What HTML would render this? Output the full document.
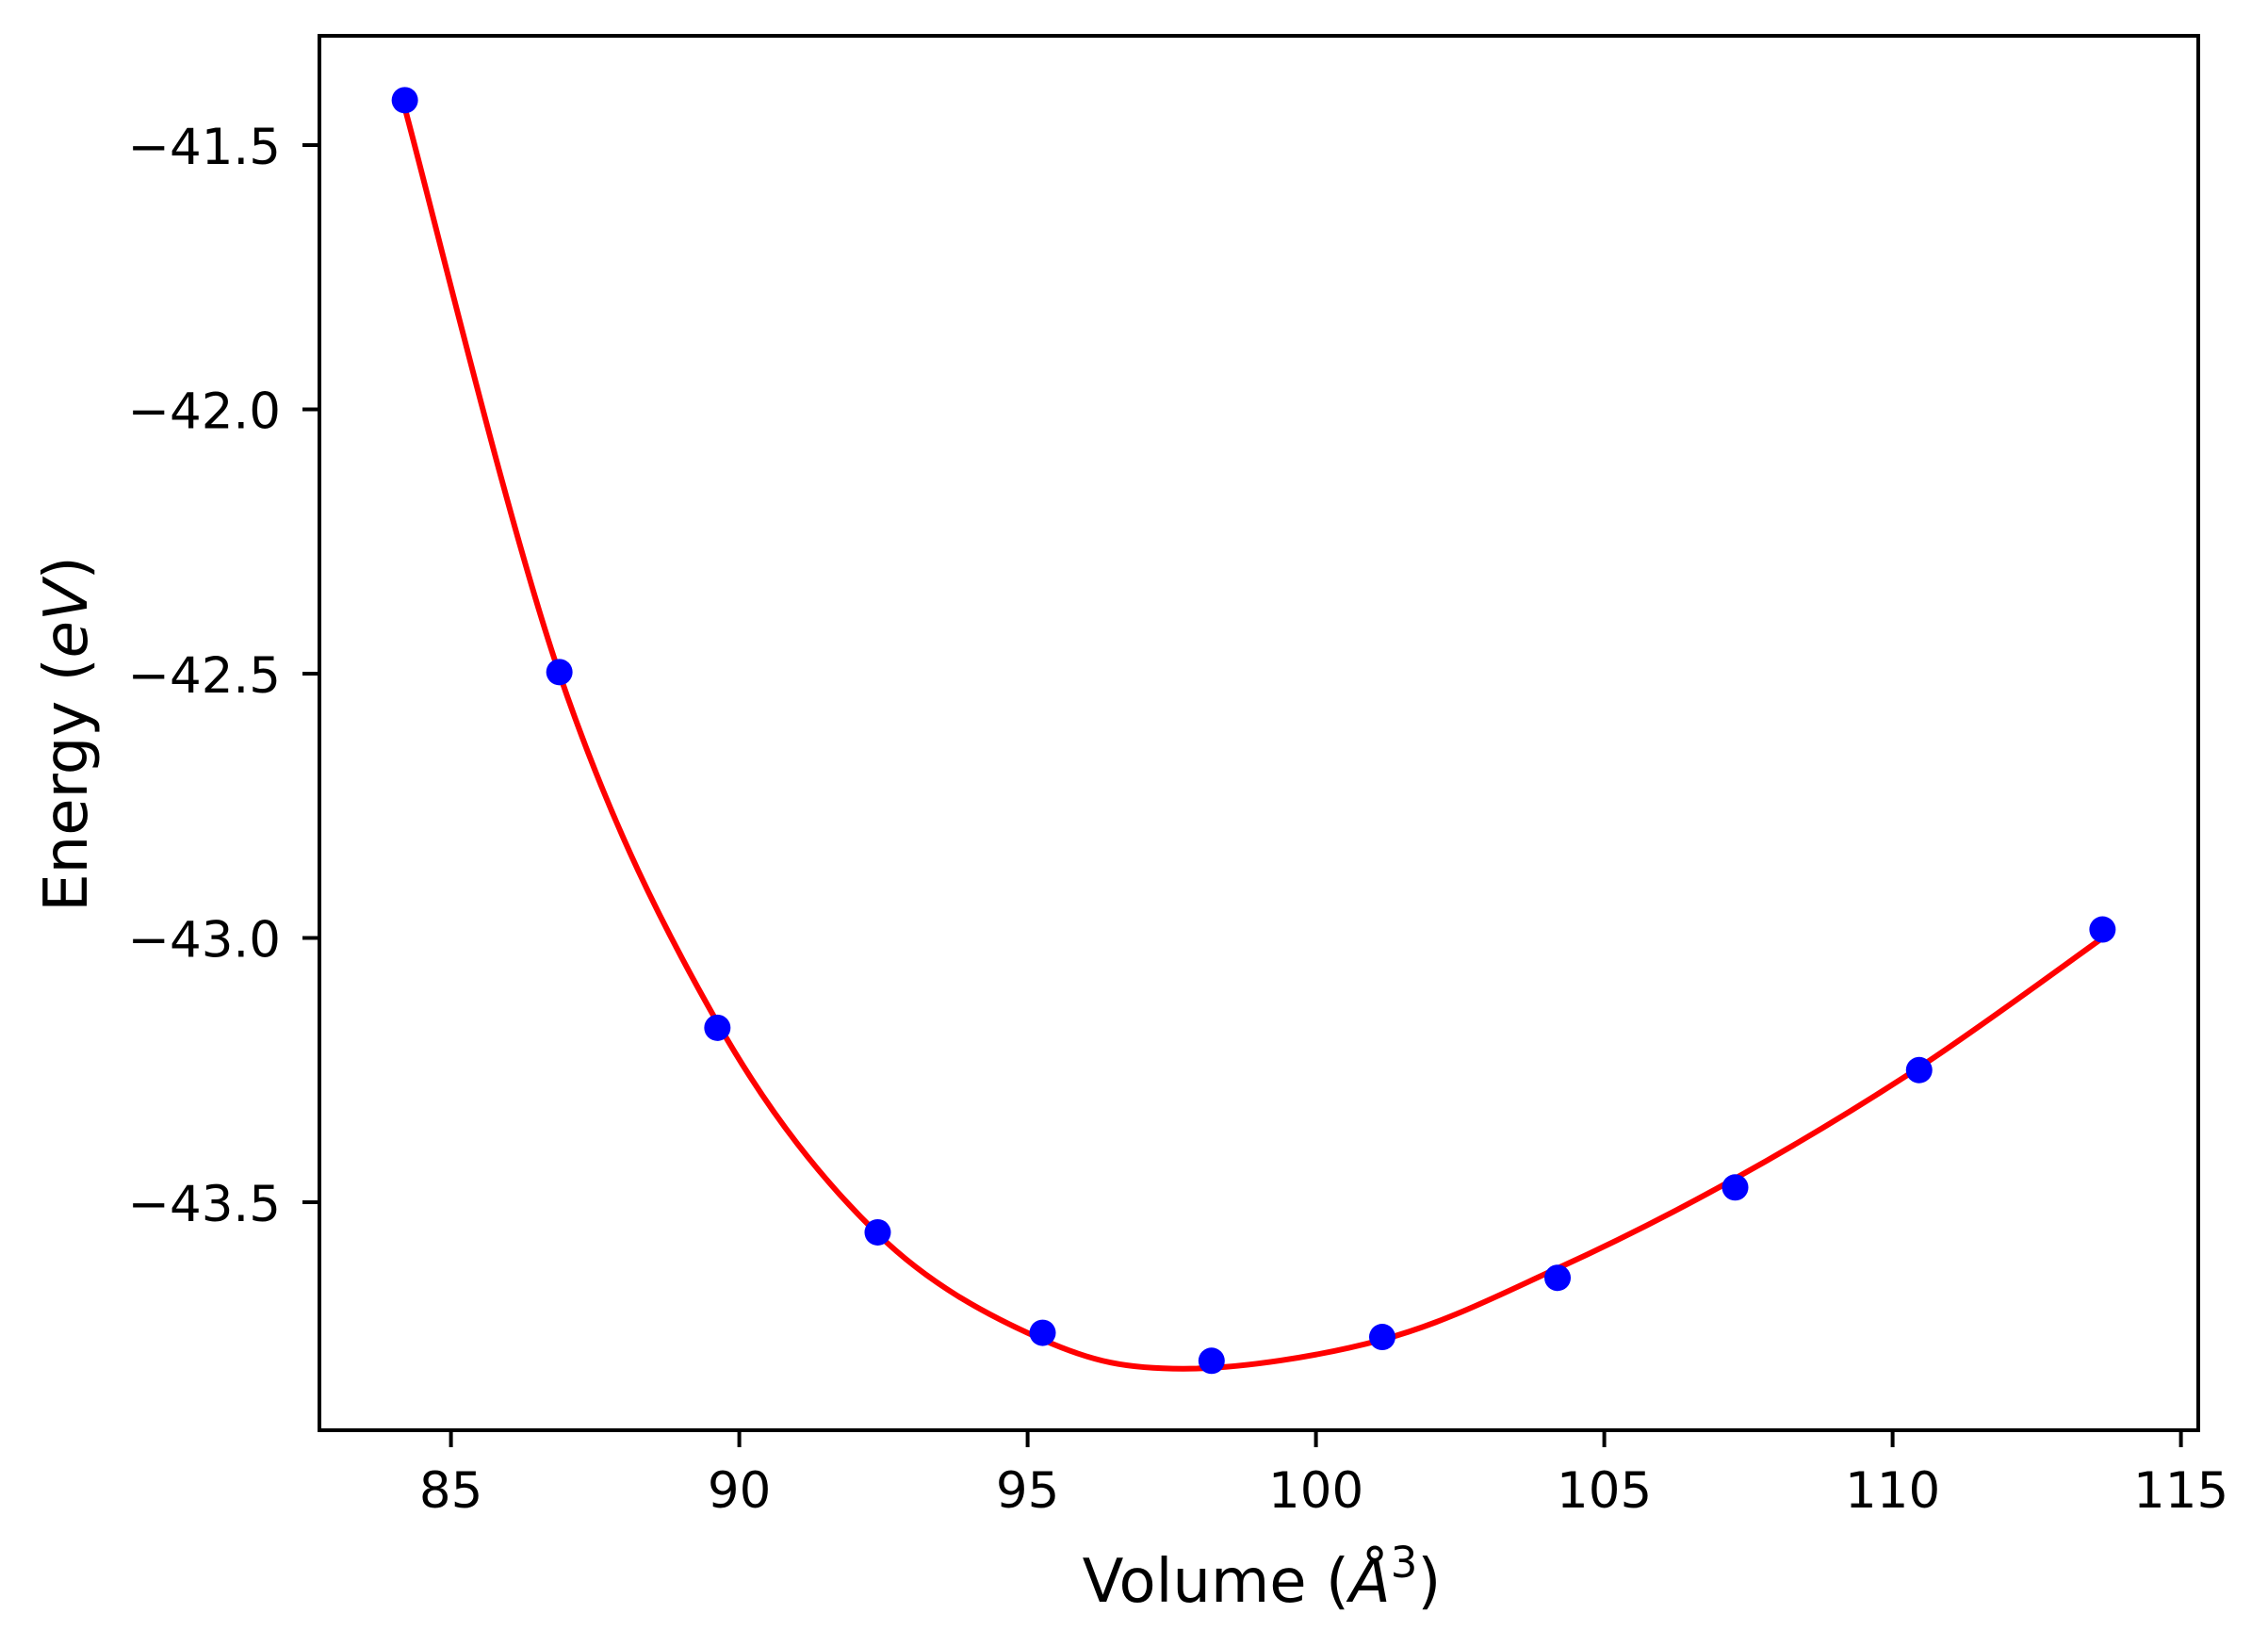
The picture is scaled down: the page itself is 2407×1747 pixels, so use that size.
<!DOCTYPE html>
<html><head><meta charset="utf-8">
<style>
html,body{margin:0;padding:0;background:#fff;}
svg{display:block;font-family:"DejaVu Sans","Liberation Sans",sans-serif;}
</style></head>
<body>
<svg id="chart" width="2407" height="1747" viewBox="0 0 2407 1747" xmlns="http://www.w3.org/2000/svg">
<rect x="0" y="0" width="2407" height="1747" fill="#fff"/>
<g id="plot"></g>
<rect x="339" y="38" width="1994" height="1480" fill="none" stroke="#000" stroke-width="4"/>
<g id="xticks"></g>
<g id="yticks"></g>
<text x="1339" y="1700" font-size="64" text-anchor="middle">Volume (<tspan font-style="italic">Å</tspan><tspan font-size="45" dy="-26">3</tspan><tspan dy="26">)</tspan></text>
<text transform="translate(92,779) rotate(-90)" font-size="64" text-anchor="middle">Energy (<tspan font-style="italic">eV</tspan>)</text>
</svg>
<script>
const volumes = [84.2, 86.88, 89.62, 92.40, 95.26, 98.19, 101.15, 104.19, 107.27, 110.46, 113.64];
const energies = [-41.415, -42.497, -43.17, -43.557, -43.747, -43.80, -43.755, -43.643, -43.472, -43.25, -42.984];
const fitVolumes = [84.2, 86.88, 89.62, 92.40, 95.26, 97.7, 101.15, 104.19, 107.27, 110.46, 113.64];
const fitEnergies = [-41.43, -42.50, -43.16, -43.56, -43.76, -43.815, -43.76, -43.625, -43.455, -43.245, -43.00];
const xTicks = [85, 90, 95, 100, 105, 110, 115];
const yTicks = [-41.5, -42.0, -42.5, -43.0, -43.5];

const NS = "http://www.w3.org/2000/svg";
function xs(v){ return 478.6 + (v - 85) * 61.2; }
function ys(e){ return 154 + (-41.5 - e) * 561; }
function mk(tag, attrs){ const el = document.createElementNS(NS, tag); for (const k in attrs) el.setAttribute(k, attrs[k]); return el; }

const plot = document.getElementById('plot');
// smooth curve (Catmull-Rom) through fit values
const pts = fitVolumes.map((v,i)=>[xs(v), ys(fitEnergies[i])]);
let d = `M${pts[0][0]},${pts[0][1]}`;
for (let i=0;i<pts.length-1;i++){
  const p0 = pts[i-1]||pts[i], p1 = pts[i], p2 = pts[i+1], p3 = pts[i+2]||pts[i+1];
  const c1 = [p1[0]+(p2[0]-p0[0])/6, p1[1]+(p2[1]-p0[1])/6];
  const c2 = [p2[0]-(p3[0]-p1[0])/6, p2[1]-(p3[1]-p1[1])/6];
  d += ` C${c1[0]},${c1[1]} ${c2[0]},${c2[1]} ${p2[0]},${p2[1]}`;
}
const line = mk('path', {d:d, fill:'none', stroke:'#ff0000', 'stroke-width':6});


plot.appendChild(line);

volumes.forEach((v,i)=>{
  const c = mk('circle', {cx: xs(v), cy: ys(energies[i]), r: 14, fill:'#0000ff'});
  
  
  plot.appendChild(c);
});

const xg = document.getElementById('xticks');
xTicks.forEach(t=>{
  const x = xs(t);
  const tk = mk('line', {x1:x, x2:x, y1:1518, y2:1536, stroke:'#000', 'stroke-width':4});
  
  
  xg.appendChild(tk);
  const lb = mk('text', {x:x, y:1600, 'font-size':53, 'text-anchor':'middle'});
  
  
  lb.textContent = String(t);
  xg.appendChild(lb);
});

const yg = document.getElementById('yticks');
yTicks.forEach(t=>{
  const y = ys(t);
  const tk = mk('line', {x1:321, x2:339, y1:y, y2:y, stroke:'#000', 'stroke-width':4});
  
  
  yg.appendChild(tk);
  const lb = mk('text', {x:298, y:y+20, 'font-size':53, 'text-anchor':'end'});
  
  
  lb.textContent = '\u2212' + Math.abs(t).toFixed(1);
  yg.appendChild(lb);
});
</script>
</body></html>
